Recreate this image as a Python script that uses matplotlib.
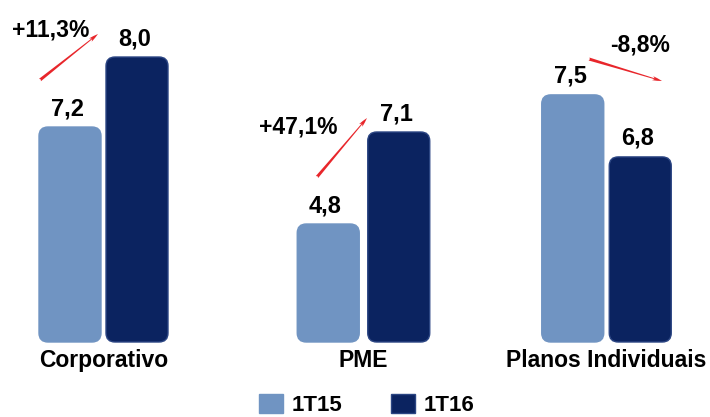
import matplotlib
matplotlib.use("Agg")
import matplotlib.pyplot as plt
from matplotlib.patches import FancyBboxPatch, Patch

# data
categories = ["Corporativo", "PME", "Planos Individuais"]
periods = ["1T15", "1T16"]
vals_1t15 = [7.2, 4.8, 7.5]
vals_1t16 = [8.0, 7.1, 6.8]
changes = ["+11,3%", "+47,1%", "-8,8%"]

plt.rcParams['font.family'] = ['Liberation Sans', 'DejaVu Sans']
plt.rcParams['font.weight'] = 'bold'

W, H = 710, 417
fig = plt.figure(figsize=(W / 100, H / 100), dpi=100)

c_light = "#7094c2"
c_dark = "#0b2360"
c_red = "#e8262b"

# the source slide scales each group on its own, so one axes per group
# (left px, bar spacing px, ylim floor, px per unit)
layout = [(36.5, 67, 4.743, 87.5), (293, 70.5, 1.85, 40.0), (539, 67.5, 4.711, 88.6)]
base_px, top_px = 342, 10
bar_px = 62

for i, cat in enumerate(categories):
    left, sp, y0, k = layout[i]
    ax = fig.add_axes([left / W, (H - base_px) / H, 2 * sp / W, (base_px - top_px) / H])
    ax.set_xlim(-0.5, 1.5)
    ax.set_ylim(y0, y0 + (base_px - top_px) / k)
    vals = [vals_1t15[i], vals_1t16[i]]
    bars = ax.bar([0, 1], [v - y0 for v in vals], bottom=y0, width=bar_px / sp)
    for b, v, fc in zip(bars, vals, [c_light, c_dark]):
        x, y, w, h = b.get_x(), b.get_y(), b.get_width(), b.get_height()
        b.remove()
        ec = "#2b4583" if fc == c_dark else fc
        p = FancyBboxPatch((x, y), w, h,
                           boxstyle="round,pad=0,rounding_size=%f" % (9 / sp),
                           mutation_aspect=sp / k, fc=fc, ec=ec, lw=1, clip_on=False)
        ax.add_patch(p)
        ax.annotate(("%.1f" % v).replace(".", ","), (x + w / 2, v),
                    xytext=(-2, 5), textcoords="offset points",
                    ha="center", va="bottom", fontsize=17, fontweight="bold")
    ax.set_xticks([0.5])
    ax.set_xticklabels([cat], fontsize=16.5, fontweight="bold")
    ax.tick_params(axis="x", length=0, pad=5)
    ax.set_yticks([])
    for s in ax.spines.values():
        s.set_visible(False)
    ax.patch.set_alpha(0)

# change arrows and labels (figure pixels, y from top)
arrows = [((40, 80), (98, 34)), ((317, 177), (367, 118)), ((589, 59), (662, 81))]
txt_pos = [(51, 30), (298, 127), (640, 45)]
for (p0, p1), (tx, ty), lab in zip(arrows, txt_pos, changes):
    ax.annotate("", xy=(p1[0], H - p1[1]), xytext=(p0[0], H - p0[1]),
                xycoords="figure pixels", textcoords="figure pixels",
                arrowprops=dict(arrowstyle="fancy,head_length=0.7,head_width=0.3,tail_width=0.22",
                                fc=c_red, ec="none", shrinkA=0, shrinkB=0))
    fig.text(tx / W, 1 - ty / H, lab, ha="center", va="center",
             fontsize=16.5, fontweight="bold")

handles = [Patch(fc=c_light, ec=c_light), Patch(fc=c_dark, ec="#2b4583")]
fig.legend(handles, periods, loc="center", bbox_to_anchor=(367 / W, 12 / H),
           ncol=2, frameon=False, prop={"size": 16, "weight": "bold"},
           handlelength=1.07, handleheight=0.9, handletextpad=0.4,
           columnspacing=2.2, borderpad=0, borderaxespad=0)

fig.savefig("out.png", dpi=100)
